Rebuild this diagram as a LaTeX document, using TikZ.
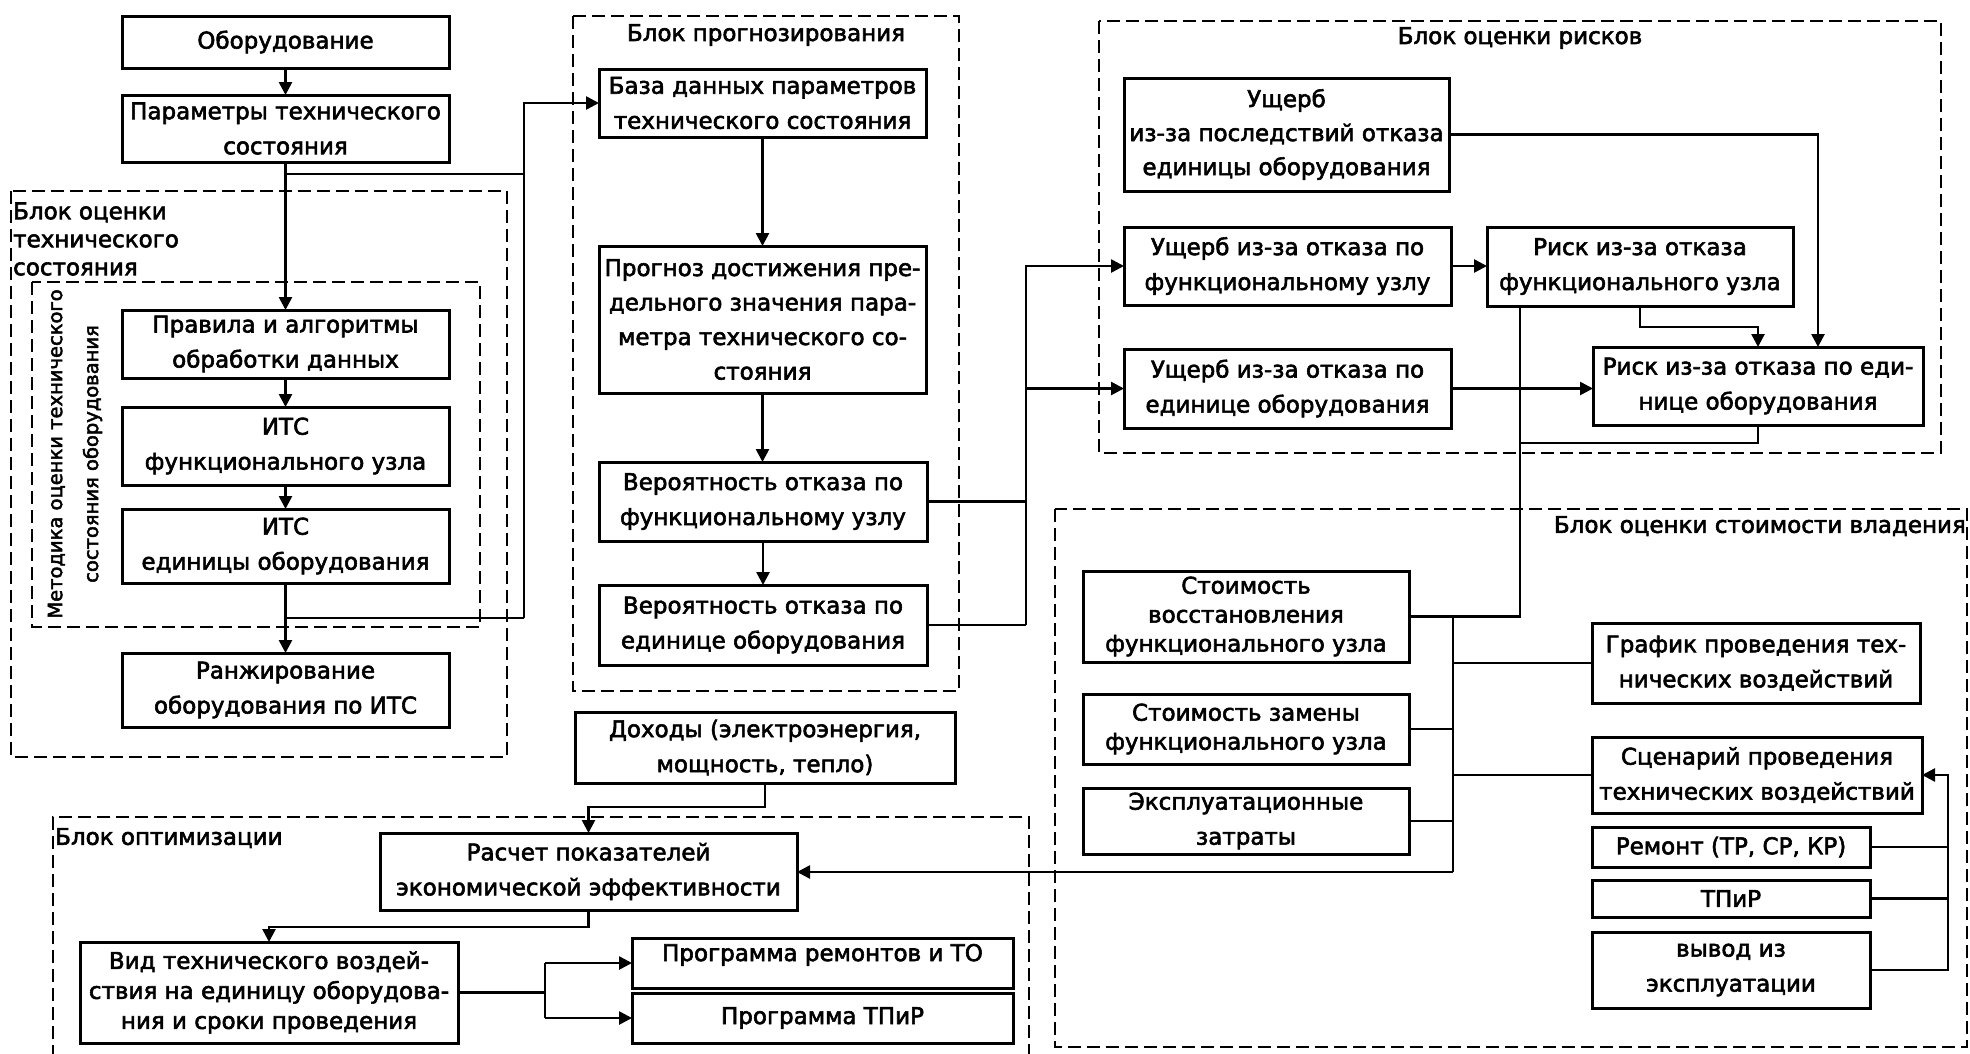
\documentclass[tikz,border=0pt]{standalone}
\usepackage{fontspec}
\usetikzlibrary{arrows.meta}
\newfontfamily\djf{DejaVu Sans}[FakeBold=2.5]
\tikzset{
  x=1pt, y=-1pt,
  box/.style={draw, line width=3pt, inner sep=0pt, outer sep=0pt, anchor=north west, align=center,
    font=\djf\fontsize{23}{35}\selectfont},
  ttl/.style={inner sep=0pt, font=\djf\fontsize{23}{28}\selectfont},
  dbox/.style={line width=2.6pt, dash pattern=on 13pt off 6pt},
  ln/.style={line width=2.6pt},
  arr/.style={line width=2.6pt, -{Triangle[length=13pt,width=13pt]}}
}
\begin{document}
\begin{tikzpicture}
\useasboundingbox (0,0) rectangle (1970,1053);
% dashed blocks
\draw[dbox] (11,191) rectangle (507,757);
\draw[dbox] (32,282) rectangle (480,627);
\draw[dbox] (573,16) rectangle (959,691);
\draw[dbox] (1099,21) rectangle (1941,453);
\draw[dbox] (1055,509) rectangle (1967,1047);
\draw[dbox] (53,1058) -- (53,817) -- (1029,817) -- (1029,1058);
% block titles
\node[ttl, anchor=west, align=left] (t1) at (13,239) {Блок оценки\\технического\\состояния};
\node[ttl, rotate=90, align=center, font=\djf\fontsize{19.5}{36}\selectfont] (t2) at (75,454) {Методика оценки технического\\состояния оборудования};
\node[ttl] (t3) at (766,35) {Блок прогнозирования};
\node[ttl] (t4) at (1520,38) {Блок оценки рисков};
\node[ttl, anchor=east] (t5) at (1966,526) {Блок оценки стоимости владения};
\node[ttl, anchor=west] (t6) at (55,838) {Блок оптимизации};
% left column
\node[box, minimum width=327pt, minimum height=52pt] (obor) at (122,16) {Оборудование};
\node[box, minimum width=327pt, minimum height=67pt] (param) at (122,95) {Параметры технического\\состояния};
\node[box, minimum width=327pt, minimum height=68pt] (pravila) at (122,310) {Правила и алгоритмы\\обработки данных};
\node[box, minimum width=327pt, minimum height=78pt] (itsf) at (122,407) {ИТС\\функционального узла};
\node[box, minimum width=327pt, minimum height=74pt] (itsu) at (122,509) {ИТС\\единицы оборудования};
\node[box, minimum width=327pt, minimum height=74pt] (rank) at (122,653) {Ранжирование\\оборудования по ИТС};
% forecasting column
\node[box, minimum width=327pt, minimum height=68pt] (baza) at (599,69) {База данных параметров\\технического состояния};
\node[box, minimum width=327pt, minimum height=147pt, font=\djf\fontsize{23}{34.5}\selectfont] (prog) at (599,246) {Прогноз достижения пре-\\дельного значения пара-\\метра технического со-\\стояния};
\node[box, minimum width=328pt, minimum height=79pt] (verf) at (599,462) {Вероятность отказа по\\функциональному узлу};
\node[box, minimum width=328pt, minimum height=80pt] (veru) at (599,585) {Вероятность отказа по\\единице оборудования};
% risk block
\node[box, minimum width=325pt, minimum height=113pt, font=\djf\fontsize{23}{34}\selectfont] (ushp) at (1124,78) {Ущерб\\из-за последствий отказа\\единицы оборудования};
\node[box, minimum width=327pt, minimum height=78pt] (ushf) at (1124,227) {Ущерб из-за отказа по\\функциональному узлу};
\node[box, minimum width=306pt, minimum height=79pt] (riskf) at (1487,227) {Риск из-за отказа\\функционального узла};
\node[box, minimum width=327pt, minimum height=79pt] (ushu) at (1124,349) {Ущерб из-за отказа по\\единице оборудования};
\node[box, minimum width=330pt, minimum height=78pt] (risku) at (1593,347) {Риск из-за отказа по еди-\\нице оборудования};
% cost block
\node[box, minimum width=326pt, minimum height=91pt, font=\djf\fontsize{23}{29}\selectfont] (stv) at (1083,571) {Стоимость\\восстановления\\функционального узла};
\node[box, minimum width=326pt, minimum height=70pt, font=\djf\fontsize{23}{29}\selectfont] (stz) at (1083,694) {Стоимость замены\\функционального узла};
\node[box, minimum width=326pt, minimum height=66pt] (expl) at (1083,788) {Эксплуатационные\\затраты};
\node[box, minimum width=328pt, minimum height=80pt] (grafik) at (1592,623) {График проведения тех-\\нических воздействий};
\node[box, minimum width=330pt, minimum height=76pt] (scen) at (1592,737) {Сценарий проведения\\технических воздействий};
\node[box, minimum width=278pt, minimum height=40pt] (remont) at (1592,827) {Ремонт (ТР, СР, КР)};
\node[box, minimum width=278pt, minimum height=37pt] (tpir) at (1592,880) {ТПиР};
\node[box, minimum width=278pt, minimum height=76pt] (vyvod) at (1592,932) {вывод из\\эксплуатации};
% optimisation block
\node[box, minimum width=380pt, minimum height=71pt] (dohody) at (575,712) {Доходы (электроэнергия,\\мощность, тепло)};
\node[box, minimum width=417pt, minimum height=77pt] (rasch) at (380,833) {Расчет показателей\\экономической эффективности};
\node[box, minimum width=378pt, minimum height=101pt, font=\djf\fontsize{23}{30}\selectfont] (vid) at (80,942) {Вид технического воздей-\\ствия на единицу оборудова-\\ния и сроки проведения};
\node[box, minimum width=381pt, minimum height=50pt, text depth=21pt] (progrem) at (632,938) {Программа ремонтов и ТО};
\node[box, minimum width=381pt, minimum height=50pt] (progtp) at (632,993) {Программа ТПиР};
% coordinates
\coordinate (j1) at (285.5,174);
\coordinate (jA) at (524,174);
\coordinate (jB) at (524,618);
\coordinate (jC) at (285.5,618);
\coordinate (m1) at (1026,625);
\coordinate (m2) at (1026,501.5);
\coordinate (m3) at (1026,388.5);
\coordinate (r1) at (1818,347);
\coordinate (r2b) at (1758,327);
\coordinate (r2) at (1758,347);
\coordinate (r3) at (1520,306);
\coordinate (r4) at (1520,443);
\coordinate (k1) at (1453,616.5);
\coordinate (k2) at (1453,872);
\coordinate (s1) at (1948,970);
\coordinate (d2) at (588.5,807);
\coordinate (e2) at (269,927);
\coordinate (f1) at (545,992.5);
% left connectors
\draw[arr] (obor.south) -- (param.north);
\draw[arr] (param.south) -- (pravila.north);
\draw[arr] (pravila.south) -- (itsf.north);
\draw[arr] (itsf.south) -- (itsu.north);
\draw[arr] (itsu.south) -- (rank.north);
\draw[ln] (j1) -- (jA);
\draw[ln] (jC) -- (jB);
\draw[arr] (jB) |- (baza.west);
% forecasting connectors
\draw[arr] (baza.south) -- (prog.north);
\draw[arr] (prog.south) -- (prog.south |- verf.north);
\draw[arr] (verf.south) -- (veru.north);
\draw[ln] (verf.east) -- (m2);
\draw[ln] (veru.east) -- (m1);
\draw[arr] (m1) |- (ushf.west);
\draw[arr] (m3) -- (ushu.west);
% risk connectors
\draw[arr] (ushf.east) -- (ushf.east -| riskf.west);
\draw[arr] (ushu.east) -- (ushu.east -| risku.west);
\draw[arr] (ushp.east) -| (r1);
\draw[arr] (riskf.south) |- (r2b) -- (r2);
\draw[ln] (r3) |- (stv.east);
\draw[ln] (risku.south) |- (r4);
% cost connectors
\draw[ln] (k1) -- (k2);
\draw[ln] (stz.east) -- (stz.east -| k1);
\draw[ln] (expl.east) -- (expl.east -| k1);
\draw[ln] (k1 |- grafik.west) -- (grafik.west);
\draw[ln] (k1 |- scen.west) -- (scen.west);
\draw[arr] (k2) -- (k2 -| rasch.east);
\draw[arr] (vyvod.east) -- (s1) |- (scen.east);
\draw[ln] (remont.east) -- (remont.east -| s1);
\draw[ln] (tpir.east) -- (tpir.east -| s1);
% optimisation connectors
\draw[arr] (dohody.south) |- (d2) -- (rasch.north);
\draw[arr] (rasch.south) |- (e2) -- (vid.north);
\draw[ln] (vid.east) -- (f1);
\draw[ln] (f1 |- progrem.west) -- (f1 |- progtp.west);
\draw[arr] (f1 |- progrem.west) -- (progrem.west);
\draw[arr] (f1 |- progtp.west) -- (progtp.west);
\end{tikzpicture}
\end{document}
